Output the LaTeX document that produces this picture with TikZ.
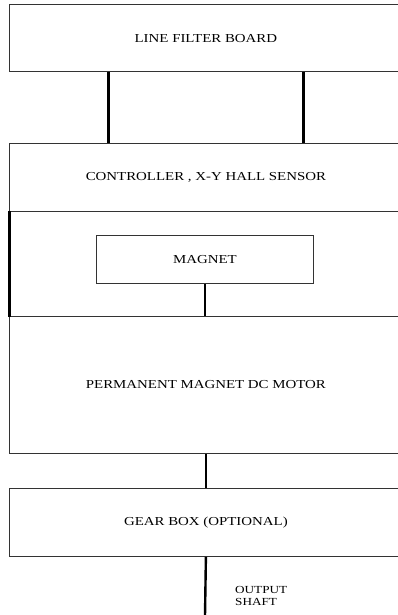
\documentclass[tikz,border=0pt]{standalone}
\usepackage{fontspec}
\setmainfont{Liberation Serif}[FakeStretch=1.22]
\usepackage{tikz}
\usetikzlibrary{positioning}

\begin{document}
\begin{tikzpicture}[x=1pt,y=-1pt,
 box/.style={draw=black!80,line width=0.8pt,minimum width=393pt,anchor=north west,inner sep=0pt,
   font=\fontsize{12.2}{14}\selectfont},
 link/.style={line width=2.4pt}]
\useasboundingbox (0,0) rectangle (398,615);
\begin{scope}
\clip (0,0) rectangle (398,615);
\node[box,minimum height=66.5pt] (lfb) at (9,4.5) {LINE FILTER BOARD};
\node[box,minimum height=68pt] (ctrl) at (9,143) {CONTROLLER , X-Y HALL SENSOR};
\node[box,minimum height=105pt] (housing) at (9,211) {};
\node[box,minimum width=217pt,minimum height=48pt] (magnet) at (96,235) {MAGNET};
\node[box,minimum height=137pt] (motor) at (9,316) {PERMANENT MAGNET DC MOTOR};
\node[box,minimum height=68pt] (gear) at (9,488) {GEAR BOX (OPTIONAL)};
\coordinate (shaft) at (205,616);
\node[anchor=north west,align=left,inner sep=0pt,font=\fontsize{10.8}{11.2}\selectfont] (shafttext) at (235,586.5) {OUTPUT\\SHAFT};
% connectors
\draw[link] ([xshift=-97.5pt]lfb.south) -- ([xshift=-97.5pt]ctrl.north);
\draw[link] ([xshift=97.5pt]lfb.south) -- ([xshift=97.5pt]ctrl.north);
\draw[link] ([xshift=0.5pt]housing.north west) -- ([xshift=0.5pt]housing.south west);
\draw[link] (magnet.south) -- (magnet.south |- motor.north);
\draw[link] (motor.south) -- (gear.north);
\draw[link] (gear.south) -- (shaft);
\end{scope}
\end{tikzpicture}
\end{document}
